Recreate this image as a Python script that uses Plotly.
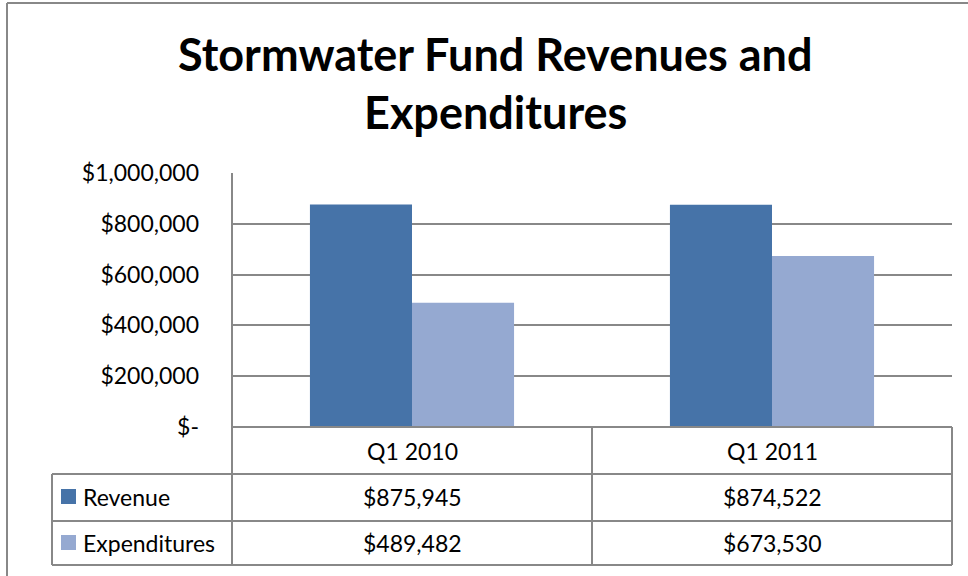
import plotly.graph_objects as go

# ---------------- data ----------------
quarters = ["Q1 2010", "Q1 2011"]
revenue = [875945, 874522]
expenditures = [489482, 673530]
series_names = ["Revenue", "Expenditures"]
y_ticks = [0, 200000, 400000, 600000, 800000, 1000000]
y_tick_labels = ["$-", "$200,000", "$400,000", "$600,000", "$800,000", "$1,000,000"]
title_lines = ["Stormwater Fund Revenues and", "Expenditures"]

# ---------------- layout helpers (pixels -> paper) ----------------
W, H = 968, 576
def px(x):
    return x / W
def py(y):
    return 1 - y / H

FONT = "Lato"
GRID = "#888888"
colors = ["#4673a8", "#95a9d1"]

fig = go.Figure()
for name, vals, c in zip(series_names, [revenue, expenditures], colors):
    fig.add_trace(go.Bar(x=quarters, y=vals, name=name, marker_color=c,
                         marker_line_width=0))

fig.update_layout(
    width=W, height=H, margin=dict(l=0, r=0, t=0, b=0, pad=0),
    paper_bgcolor="white", plot_bgcolor="white",
    showlegend=False, barmode="group", bargap=0.433, bargroupgap=0,
    font=dict(family=FONT, color="black", size=23),
    xaxis=dict(domain=[px(232), px(952)], showticklabels=False, ticks="",
               showgrid=False, zeroline=False, showline=False, automargin=False),
    yaxis=dict(domain=[py(427), py(173)], range=[0, 1000000],
               tickvals=y_ticks, ticktext=y_tick_labels,
               showgrid=True, gridcolor=GRID, gridwidth=2, automargin=False,
               zeroline=False, showline=False, ticks="", ticklabelstandoff=32,
               tickfont=dict(size=23, family=FONT)),
)

line = dict(color=GRID, width=2)
shapes = []
# outer chart border (left + top)
shapes.append(dict(type="line", xref="paper", yref="paper", x0=px(7), x1=px(968), y0=py(3), y1=py(3), line=line))
shapes.append(dict(type="line", xref="paper", yref="paper", x0=px(7), x1=px(7), y0=py(3), y1=py(576), line=line))
# vertical axis line running through the table
shapes.append(dict(type="line", xref="paper", yref="paper", x0=px(232), x1=px(232), y0=py(173), y1=py(565), line=line))
# table horizontals
shapes.append(dict(type="line", xref="paper", yref="paper", x0=px(232), x1=px(952), y0=py(427), y1=py(427), line=line))
for yy in [474, 521, 565]:
    shapes.append(dict(type="line", xref="paper", yref="paper", x0=px(52), x1=px(952), y0=py(yy), y1=py(yy), line=line))
# table verticals
shapes.append(dict(type="line", xref="paper", yref="paper", x0=px(52), x1=px(52), y0=py(474), y1=py(565), line=line))
shapes.append(dict(type="line", xref="x", yref="paper", x0=0.5, x1=0.5, y0=py(427), y1=py(565), line=line))
shapes.append(dict(type="line", xref="paper", yref="paper", x0=px(952), x1=px(952), y0=py(427), y1=py(565), line=line))
# legend keys in table
row_y = [497, 543]
for c, ry in zip(colors, row_y):
    shapes.append(dict(type="rect", xref="paper", yref="paper", x0=px(61), x1=px(76),
                       y0=py(ry + 7), y1=py(ry - 8), fillcolor=c, line=dict(width=0)))
fig.update_layout(shapes=shapes)

ann = []
# title
for txt, ty in zip(title_lines, [54, 112]):
    ann.append(dict(text=f"<b>{txt}</b>", xref="paper", yref="paper", x=px(495), y=py(ty),
                    showarrow=False, xanchor="center", yanchor="middle",
                    font=dict(size=45, family=FONT, color="black")))
# table header
for q in quarters:
    ann.append(dict(text=q, xref="x", yref="paper", x=q, y=py(451), showarrow=False,
                    xanchor="center", yanchor="middle"))
# table rows
for name, vals, ry in zip(series_names, [revenue, expenditures], row_y):
    ann.append(dict(text=name, xref="paper", yref="paper", x=px(81), y=py(ry), showarrow=False,
                    xanchor="left", yanchor="middle"))
    for q, v in zip(quarters, vals):
        ann.append(dict(text=f"${v:,}", xref="x", yref="paper", x=q, y=py(ry), showarrow=False,
                        xanchor="center", yanchor="middle"))
fig.update_layout(annotations=ann)

fig.write_html("out.html", config={"displayModeBar": False})

# drop the default page margin so the figure sits at the window's top-left corner
with open("out.html", encoding="utf-8") as f:
    page = f.read()
page = page.replace("<body>", '<body style="margin:0;overflow:hidden">', 1)
with open("out.html", "w", encoding="utf-8") as f:
    f.write(page)
